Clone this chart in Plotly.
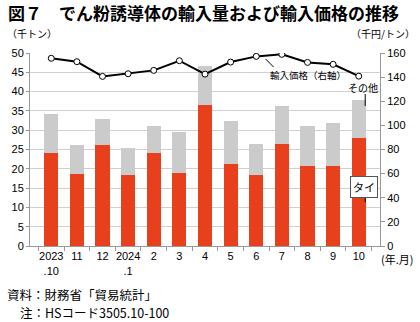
import plotly.graph_objects as go

months = ["2023<br>.10", "11", "12", "2024<br>.1", "2", "3", "4", "5", "6", "7", "8", "9", "10"]
thai = [24.2, 18.6, 26.1, 18.3, 24.2, 18.8, 36.6, 21.2, 18.3, 26.4, 20.6, 20.8, 28.0]
total = [34.3, 26.1, 32.9, 25.4, 31.0, 29.5, 46.6, 32.3, 26.5, 36.4, 31.1, 31.8, 37.7]
others = [round(t - a, 1) for t, a in zip(total, thai)]
price = [155.6, 152.8, 140.6, 142.8, 145.6, 153.6, 142.5, 152.5, 157.2, 158.9, 152.2, 150.6, 140.8]

RED = "#E8401C"
GRAY = "#CBCBCB"
FONT = "Liberation Sans, Noto Sans CJK JP, sans-serif"
JFONT = "Noto Sans CJK JP, sans-serif"

W, H = 420, 322
L, R, T, B = 25, 40, 53, 76
PW, PH = W - L - R, H - T - B


def px(x):
    return (x - L) / PW


def py(y):
    return (H - B - y) / PH


fig = go.Figure()
fig.add_trace(go.Bar(x=months, y=thai, marker=dict(color=RED, line=dict(width=0)), width=0.55, name="タイ"))
fig.add_trace(go.Bar(x=months, y=others, marker=dict(color=GRAY, line=dict(width=0)), width=0.55, name="その他"))
fig.add_trace(go.Scatter(x=months, y=price, yaxis="y2", mode="lines+markers",
                         line=dict(color="black", width=2),
                         marker=dict(symbol="circle", size=6, color="white", line=dict(color="black", width=1)),
                         name="輸入価格"))

fig.update_layout(
    width=W, height=H,
    margin=dict(l=L, r=R, t=T, b=B),
    paper_bgcolor="white", plot_bgcolor="white",
    barmode="stack", showlegend=False,
    font=dict(family=FONT, size=11, color="black"),
    xaxis=dict(showline=True, linecolor="#999999", linewidth=1, ticks="outside", tickson="boundaries",
               ticklen=4, tickcolor="#999999", tickfont=dict(size=11), tickangle=0),
    yaxis=dict(range=[0, 50], dtick=5, showgrid=True, gridcolor="#D0D0D0", gridwidth=1,
               showline=True, linecolor="#999999", ticks="outside", ticklen=3, tickcolor="#999999",
               zeroline=False, tickfont=dict(size=11)),
    yaxis2=dict(range=[0, 160], dtick=20, overlaying="y", side="right", showgrid=False,
                showline=True, linecolor="#999999", ticks="outside", ticklen=4, tickcolor="#999999",
                zeroline=False, tickfont=dict(size=11)),
)

ann = []
ann.append(dict(text="<b>図７　でん粉誘導体の輸入量および輸入価格の推移</b>", xref="paper", yref="paper",
                x=px(1), y=py(13), xanchor="left", yanchor="middle", showarrow=False,
                font=dict(family=JFONT, size=17, color="black")))
ann.append(dict(text="（千トン）", xref="paper", yref="paper", x=px(0), y=py(33),
                xanchor="left", yanchor="middle", showarrow=False, font=dict(family=JFONT, size=10)))
ann.append(dict(text="（千円/トン）", xref="paper", yref="paper", x=px(418), y=py(33),
                xanchor="right", yanchor="middle", showarrow=False, font=dict(family=JFONT, size=10)))
ann.append(dict(text="(年.月)", xref="paper", yref="paper", x=px(379), y=py(259),
                xanchor="left", yanchor="middle", showarrow=False, font=dict(family=JFONT, size=11)))
ann.append(dict(text="資料：財務省「貿易統計」", xref="paper", yref="paper", x=px(0), y=py(294),
                xanchor="left", yanchor="middle", showarrow=False, font=dict(family=JFONT, size=12.5)))
ann.append(dict(text="注：HSコード3505.10-100", xref="paper", yref="paper", x=px(13), y=py(312),
                xanchor="left", yanchor="middle", showarrow=False, font=dict(family=JFONT, size=12.5)))
ann.append(dict(text="輸入価格（右軸）", xref="paper", yref="paper", x=px(266), y=py(75),
                xanchor="left", yanchor="middle", showarrow=False, font=dict(family=JFONT, size=9.5)))
ann.append(dict(text="その他", xref="paper", yref="paper", x=px(363), y=py(87),
                xanchor="center", yanchor="middle", showarrow=False, font=dict(family=JFONT, size=10)))
ann.append(dict(text="タイ", xref="paper", yref="paper", x=px(364), y=py(187),
                xanchor="center", yanchor="middle", showarrow=False, font=dict(family=JFONT, size=11),
                bordercolor="#555555", borderwidth=1, bgcolor="white", borderpad=2))
fig.update_layout(annotations=ann)

shapes = [
    dict(type="line", xref="paper", yref="paper", x0=px(264), y0=py(59), x1=px(272), y1=py(67),
         line=dict(color="black", width=1)),
    dict(type="line", xref="paper", yref="paper", x0=px(365), y0=py(94), x1=px(365), y1=py(106),
         line=dict(color="black", width=1)),
    dict(type="line", xref="paper", yref="paper", x0=px(365), y0=py(196), x1=px(365), y1=py(202),
         line=dict(color="black", width=1)),
]
fig.update_layout(shapes=shapes)

fig.write_html("out.html")
